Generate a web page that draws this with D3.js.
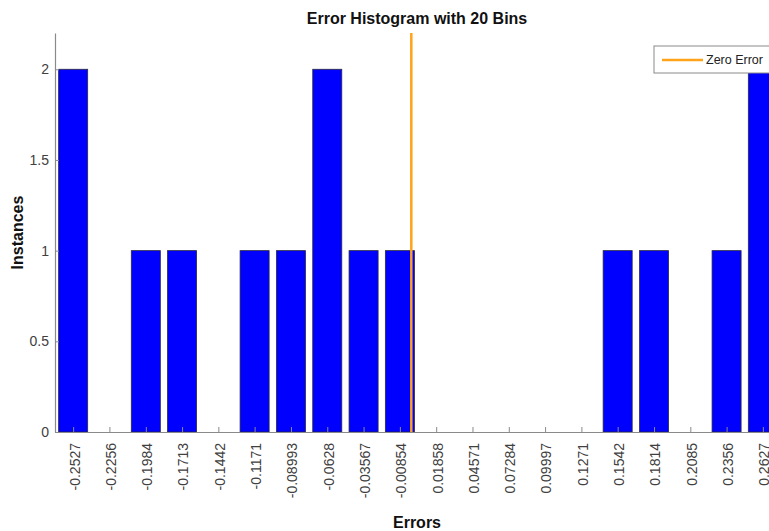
<!DOCTYPE html>
<html>
<head>
<meta charset="utf-8">
<script src="https://cdn.jsdelivr.net/npm/d3@7"></script>
<style>
  html, body { margin: 0; padding: 0; background: #fff; overflow: hidden; }
  svg { display: block; font-family: "Liberation Sans", Arial, sans-serif; }
</style>
</head>
<body>
<svg id="chart" width="769" height="531"></svg>
<script>
// Bin centres (error values) and their tick labels
const binLabels = ["-0.2527", "-0.2256", "-0.1984", "-0.1713", "-0.1442", "-0.1171", "-0.08993",
  "-0.0628", "-0.03567", "-0.00854", "0.01858", "0.04571", "0.07284", "0.09997", "0.1271",
  "0.1542", "0.1814", "0.2085", "0.2356", "0.2627"];
const binCenters = binLabels.map(Number);
// Instances per bin
const counts = [2, 0, 1, 1, 0, 1, 1, 2, 1, 1, 0, 0, 0, 0, 0, 1, 1, 0, 1, 2];
const yTicks = [0, 0.5, 1, 1.5, 2];
const yMax = 2.2;
const zeroError = 0;

const svg = d3.select("#chart");
const plotLeft = 55, plotRight = 781, plotTop = 33, plotBottom = 432;

const binW = (binCenters[19] - binCenters[0]) / 19;
const x = d3.scaleLinear()
  .domain([binCenters[0] - binW / 2, binCenters[19] + binW / 2])
  .range([plotLeft, plotRight]);
const y = d3.scaleLinear().domain([0, yMax]).range([plotBottom, plotTop]);

const barPx = (x(binW) - x(0)) * 0.8;

// Bars
svg.append("g").selectAll("rect")
  .data(counts.map((c, i) => ({ c, x: binCenters[i] })).filter(d => d.c > 0))
  .join("rect")
  .attr("x", d => x(d.x) - barPx / 2)
  .attr("y", d => y(d.c))
  .attr("width", barPx)
  .attr("height", d => y(0) - y(d.c))
  .attr("fill", "#0000ff")
  .attr("stroke", "#2a2a40")
  .attr("stroke-width", 0.8);

// X axis
const xAxis = svg.append("g")
  .attr("transform", `translate(0,${plotBottom})`)
  .call(d3.axisBottom(x).tickValues(binCenters).tickFormat((d, i) => binLabels[i]).tickSizeInner(-5).tickSizeOuter(0));
xAxis.select(".domain").attr("stroke", "#8a8a8a").attr("stroke-width", 1.2);
xAxis.selectAll(".tick line").attr("stroke", "#8a8a8a");
xAxis.selectAll(".tick text")
  .attr("fill", "#404040")
  .attr("font-size", 14)
  .attr("transform", "rotate(-90)")
  .attr("text-anchor", "end")
  .attr("x", -11)
  .attr("y", 1)
  .attr("dy", "0.35em");

// Y axis
const yAxis = svg.append("g")
  .attr("transform", `translate(${plotLeft},0)`)
  .call(d3.axisLeft(y).tickValues(yTicks).tickFormat(d3.format("")).tickSizeInner(-4).tickSizeOuter(0));
yAxis.select(".domain").attr("stroke", "#8a8a8a").attr("stroke-width", 1.2);
yAxis.selectAll(".tick line").attr("stroke", "#8a8a8a");
yAxis.selectAll(".tick text")
  .attr("fill", "#404040")
  .attr("font-size", 14)
  .attr("x", -6);

// Zero error line
svg.append("line")
  .attr("x1", x(zeroError)).attr("x2", x(zeroError))
  .attr("y1", plotTop).attr("y2", plotBottom)
  .attr("stroke", "#ffa31a")
  .attr("stroke-width", 2.5);

// Title and axis labels
svg.append("text")
  .attr("x", (plotLeft + plotRight) / 2 - 1).attr("y", 24)
  .attr("text-anchor", "middle")
  .attr("font-size", 16).attr("font-weight", "bold").attr("fill", "#111")
  .text("Error Histogram with 20 Bins");

svg.append("text")
  .attr("x", (plotLeft + plotRight) / 2 - 1).attr("y", 528)
  .attr("text-anchor", "middle")
  .attr("font-size", 16).attr("font-weight", "bold").attr("fill", "#111")
  .text("Errors");

svg.append("text")
  .attr("transform", `translate(23,${(plotTop + plotBottom) / 2}) rotate(-90)`)
  .attr("text-anchor", "middle")
  .attr("font-size", 16).attr("font-weight", "bold").attr("fill", "#111")
  .text("Instances");

// Legend
const lg = svg.append("g").attr("transform", "translate(654,46)");
lg.append("rect")
  .attr("width", 128).attr("height", 27)
  .attr("fill", "#fff").attr("stroke", "#8a8a8a").attr("stroke-width", 1);
lg.append("line")
  .attr("x1", 8).attr("x2", 49).attr("y1", 14).attr("y2", 14)
  .attr("stroke", "#ffa31a").attr("stroke-width", 2.5);
lg.append("text")
  .attr("x", 52).attr("y", 14).attr("dy", "0.35em")
  .attr("font-size", 12.5).attr("fill", "#222")
  .text("Zero Error");
</script>
</body>
</html>
